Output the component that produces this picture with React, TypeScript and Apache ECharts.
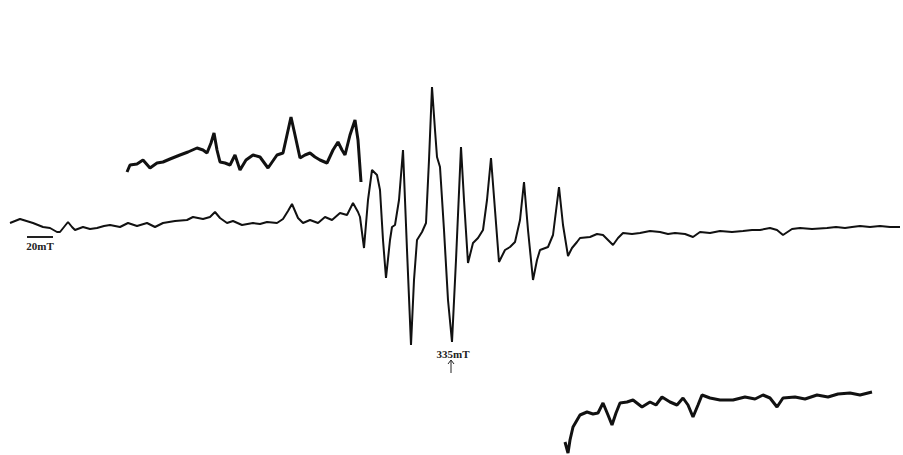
import React, { useEffect, useRef } from "react";
import * as echarts from "echarts";

// Field position (chart units) and signal intensity (arbitrary units)
const mainField = [10,20,33,43,50,57,60,64,68,72,75,83,90,97,104,110,120,128,137,147,155,163,175,187,193,203,210,215,220,227,233,242,253,260,267,277,283,288,292,298,303,310,318,325,332,340,347,353,358,360,364,368,372,377,380,383,386,390,392,395,399,403,407,411,414,417,422,426,429,432,435,437,440,444,448,452,456,461,464,468,473,478,483,487,491,495,499,505,510,515,520,524,528,533,537,540,548,553,559,563,568,572,577,580,590,597,603,608,613,618,623,632,640,650,660,668,675,685,693,700,710,720,732,743,752,760,770,777,783,792,800,812,827,836,845,852,860,870,880,890,900];
const mainSignal = [2,6,2,-2,-3,-7,-7,-2,3,-2,-5,-2,-4,-3,-1,0,-2,2,-1,2,-2,2,4,5,8,6,8,13,7,2,4,0,2,1,3,2,6,14,21,7,2,5,2,8,5,12,10,22,13,8,-23,25,55,50,35,-15,-53,-15,-2,0,25,75,-25,-120,-55,-15,-7,2,65,138,95,68,58,-5,-75,-117,-35,78,25,-38,-18,-13,-5,25,67,15,-37,-25,-22,-17,5,43,-5,-55,-35,-25,-22,-10,38,0,-31,-23,-17,-13,-12,-9,-10,-15,-20,-13,-8,-9,-8,-6,-7,-9,-8,-9,-12,-7,-8,-6,-7,-6,-5,-5,-3,-5,-10,-4,-3,-4,-3,-2,-3,-2,-1,-2,-1,-2,-2];

const upperField = [127,130,137,143,150,157,163,170,180,188,197,203,207,211,214,217,220,225,230,235,240,246,253,260,268,277,283,287,291,295,300,305,310,315,320,327,333,338,342,345,350,355,358,361];
const upperSignal = [53,60,61,65,57,62,63,66,70,73,77,75,72,82,92,75,63,62,60,70,55,65,70,68,57,70,72,90,108,90,67,70,72,68,65,62,75,83,75,70,90,105,85,43];

const lowerField = [565,568,570,573,580,587,593,598,603,608,612,616,620,627,633,642,650,656,662,670,677,683,688,693,698,702,710,720,733,745,755,763,770,777,783,795,805,817,828,838,850,860,872];
const lowerSignal = [-217,-228,-215,-202,-190,-187,-189,-188,-178,-190,-200,-188,-178,-177,-175,-182,-177,-180,-172,-177,-180,-173,-180,-192,-180,-170,-173,-175,-175,-172,-174,-170,-173,-182,-173,-172,-174,-170,-172,-169,-168,-170,-167];

const zip = (xs: number[], ys: number[]) => xs.map((x, i) => [x, ys[i]]);

export default function App() {
  const ref = useRef<HTMLDivElement>(null);
  useEffect(() => {
    document.body.style.margin = "0";
    const chart = echarts.init(ref.current!, null, { renderer: "svg" });
    const lineStyleMain = { color: "#111", width: 2 };
    const lineStyleInset = { color: "#111", width: 3 };
    chart.setOption({
      animation: false,
      backgroundColor: "#ffffff",
      grid: { left: 0, right: 0, top: 0, bottom: 0 },
      xAxis: { type: "value", min: 0, max: 903, show: false },
      yAxis: { type: "value", min: -230, max: 225, show: false },
      series: [
        { type: "line", data: zip(mainField, mainSignal), showSymbol: false, lineStyle: lineStyleMain },
        { type: "line", data: zip(upperField, upperSignal), showSymbol: false, lineStyle: lineStyleInset },
        { type: "line", data: zip(lowerField, lowerSignal), showSymbol: false, lineStyle: lineStyleInset },
      ],
      graphic: [
        { type: "line", shape: { x1: 27, y1: 237, x2: 53, y2: 237 }, style: { stroke: "#222", lineWidth: 2 } },
        { type: "text", x: 40, y: 246, style: { text: "20mT", fontFamily: "Liberation Serif", fontWeight: "bold", fontSize: 11, fill: "#222", textAlign: "center", textVerticalAlign: "middle" } },
        { type: "text", x: 453, y: 354, style: { text: "335mT", fontFamily: "Liberation Serif", fontWeight: "bold", fontSize: 11, fill: "#222", textAlign: "center", textVerticalAlign: "middle" } },
        { type: "line", shape: { x1: 451, y1: 361, x2: 451, y2: 373 }, style: { stroke: "#222", lineWidth: 1 } },
        { type: "polyline", shape: { points: [[448, 364], [451, 360], [454, 364]] }, style: { stroke: "#222", lineWidth: 1, fill: "none" } },
      ],
    });
    return () => chart.dispose();
  }, []);
  return <div ref={ref} style={{ width: 903, height: 455 }} />;
}
